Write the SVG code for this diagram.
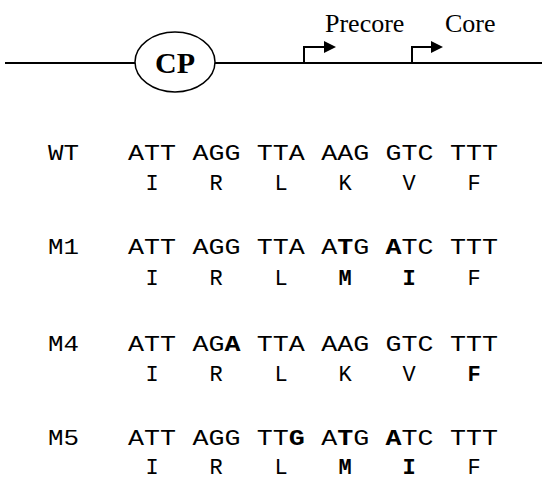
<svg xmlns="http://www.w3.org/2000/svg" width="542" height="480" viewBox="0 0 542 480">
<style>
.ln{stroke:#000;stroke-width:2;fill:none}
.serif{font-family:"Liberation Serif","Times New Roman",serif;fill:#000}
.mono{font-family:"Liberation Mono","Courier New",monospace;font-size:22px;fill:#000}
.b{font-weight:bold}
.aa{text-anchor:middle}
</style>
<defs>
<marker id="ah" viewBox="0 0 10 10" refX="0" refY="5" markerWidth="13" markerHeight="12" markerUnits="userSpaceOnUse" orient="auto">
<path d="M0,0 L10,5 L0,10 Z" fill="#000"/>
</marker>
</defs>
<g id="connectors">
<line class="ln" x1="5" y1="63" x2="135" y2="63"/>
<line class="ln" x1="215" y1="63" x2="542" y2="63"/>
<path class="ln" d="M304,63 V47 H324" marker-end="url(#ah)"/>
<path class="ln" d="M412,63 V47 H431" marker-end="url(#ah)"/>
</g>
<g id="cp">
<ellipse cx="175" cy="62" rx="40" ry="30" fill="#fff" stroke="#000" stroke-width="1.5"/>
<text class="serif b" x="175" y="73" font-size="30" text-anchor="middle">CP</text>
</g>
<g id="precore"><text class="serif" x="325" y="32" font-size="26">Precore</text></g>
<g id="core"><text class="serif" x="445" y="32" font-size="26">Core</text></g>

<g id="wt">
<text class="mono" x="48" y="160" textLength="31" lengthAdjust="spacingAndGlyphs">WT</text>
<text class="mono" x="128" y="160" textLength="48" lengthAdjust="spacingAndGlyphs">ATT</text>
<text class="mono" x="192.4" y="160" textLength="48" lengthAdjust="spacingAndGlyphs">AGG</text>
<text class="mono" x="256.8" y="160" textLength="48" lengthAdjust="spacingAndGlyphs">TTA</text>
<text class="mono" x="321.2" y="160" textLength="48" lengthAdjust="spacingAndGlyphs">AAG</text>
<text class="mono" x="385.6" y="160" textLength="48" lengthAdjust="spacingAndGlyphs">GTC</text>
<text class="mono" x="450" y="160" textLength="48" lengthAdjust="spacingAndGlyphs">TTT</text>
<text class="mono aa" x="152" y="190">I</text>
<text class="mono aa" x="216" y="190">R</text>
<text class="mono aa" x="281" y="190">L</text>
<text class="mono aa" x="345" y="190">K</text>
<text class="mono aa" x="409" y="190">V</text>
<text class="mono aa" x="474" y="190">F</text>
</g>

<g id="m1">
<text class="mono" x="48" y="254" textLength="31" lengthAdjust="spacingAndGlyphs">M1</text>
<text class="mono" x="128" y="254" textLength="48" lengthAdjust="spacingAndGlyphs">ATT</text>
<text class="mono" x="192.4" y="254" textLength="48" lengthAdjust="spacingAndGlyphs">AGG</text>
<text class="mono" x="256.8" y="254" textLength="48" lengthAdjust="spacingAndGlyphs">TTA</text>
<text class="mono" x="321.2" y="254" textLength="48" lengthAdjust="spacingAndGlyphs">A<tspan class="b">T</tspan>G</text>
<text class="mono" x="385.6" y="254" textLength="48" lengthAdjust="spacingAndGlyphs"><tspan class="b">A</tspan>TC</text>
<text class="mono" x="450" y="254" textLength="48" lengthAdjust="spacingAndGlyphs">TTT</text>
<text class="mono aa" x="152" y="285">I</text>
<text class="mono aa" x="216" y="285">R</text>
<text class="mono aa" x="281" y="285">L</text>
<text class="mono aa b" x="345" y="285">M</text>
<text class="mono aa b" x="409" y="285">I</text>
<text class="mono aa" x="474" y="285">F</text>
</g>

<g id="m4">
<text class="mono" x="48" y="351" textLength="31" lengthAdjust="spacingAndGlyphs">M4</text>
<text class="mono" x="128" y="351" textLength="48" lengthAdjust="spacingAndGlyphs">ATT</text>
<text class="mono" x="192.4" y="351" textLength="48" lengthAdjust="spacingAndGlyphs">AG<tspan class="b">A</tspan></text>
<text class="mono" x="256.8" y="351" textLength="48" lengthAdjust="spacingAndGlyphs">TTA</text>
<text class="mono" x="321.2" y="351" textLength="48" lengthAdjust="spacingAndGlyphs">AAG</text>
<text class="mono" x="385.6" y="351" textLength="48" lengthAdjust="spacingAndGlyphs">GTC</text>
<text class="mono" x="450" y="351" textLength="48" lengthAdjust="spacingAndGlyphs">TTT</text>
<text class="mono aa" x="152" y="381">I</text>
<text class="mono aa" x="216" y="381">R</text>
<text class="mono aa" x="281" y="381">L</text>
<text class="mono aa" x="345" y="381">K</text>
<text class="mono aa" x="409" y="381">V</text>
<text class="mono aa b" x="474" y="381">F</text>
</g>

<g id="m5">
<text class="mono" x="48" y="445" textLength="31" lengthAdjust="spacingAndGlyphs">M5</text>
<text class="mono" x="128" y="445" textLength="48" lengthAdjust="spacingAndGlyphs">ATT</text>
<text class="mono" x="192.4" y="445" textLength="48" lengthAdjust="spacingAndGlyphs">AGG</text>
<text class="mono" x="256.8" y="445" textLength="48" lengthAdjust="spacingAndGlyphs">TT<tspan class="b">G</tspan></text>
<text class="mono" x="321.2" y="445" textLength="48" lengthAdjust="spacingAndGlyphs">A<tspan class="b">T</tspan>G</text>
<text class="mono" x="385.6" y="445" textLength="48" lengthAdjust="spacingAndGlyphs"><tspan class="b">A</tspan>TC</text>
<text class="mono" x="450" y="445" textLength="48" lengthAdjust="spacingAndGlyphs">TTT</text>
<text class="mono aa" x="152" y="474">I</text>
<text class="mono aa" x="216" y="474">R</text>
<text class="mono aa" x="281" y="474">L</text>
<text class="mono aa b" x="345" y="474">M</text>
<text class="mono aa b" x="409" y="474">I</text>
<text class="mono aa" x="474" y="474">F</text>
</g>
</svg>
